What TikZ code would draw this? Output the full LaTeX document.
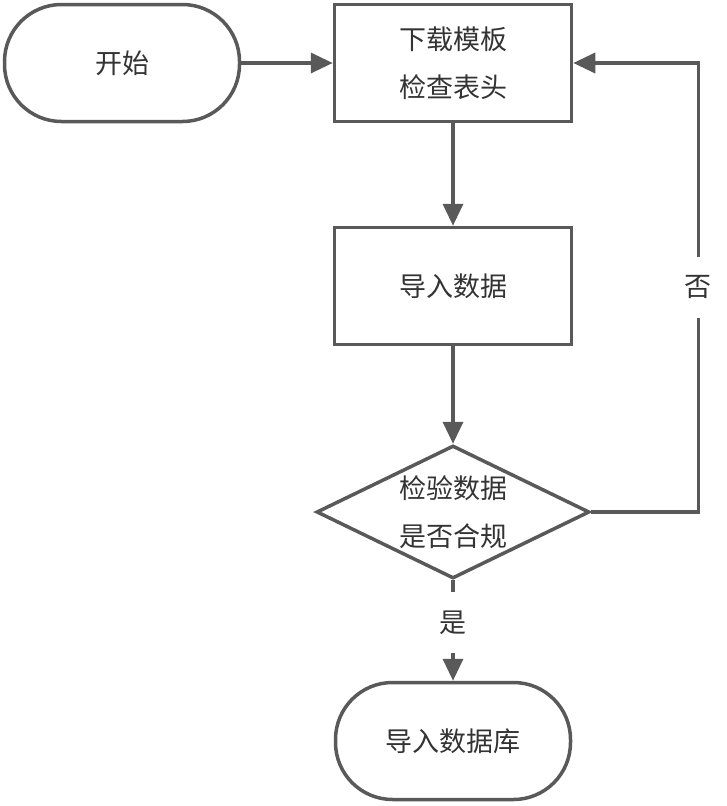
\documentclass[tikz,border=0pt]{standalone}
\usepackage{fontspec}
\setmainfont{Noto Sans CJK SC}
\usetikzlibrary{shapes.geometric,arrows.meta}

\definecolor{linegray}{HTML}{595959}
\definecolor{textgray}{HTML}{333333}

\begin{document}
\begin{tikzpicture}[x=1pt,y=-1pt,
	every node/.style={font=\fontsize{27}{48}\selectfont,text=textgray,align=center},
	terminal/.style={draw=linegray,line width=3.5pt,rounded corners=57pt,minimum width=235pt,minimum height=117pt},
	process/.style={draw=linegray,line width=3.5pt,minimum width=237pt,minimum height=117pt},
	decision/.style={draw=linegray,line width=3.5pt,diamond,aspect=2.05,inner sep=0pt,minimum width=273pt,minimum height=133pt},
	flow/.style={draw=linegray,line width=3.5pt,-{Triangle[length=22pt,width=20pt]}},
	answer/.style={fill=white,inner sep=19pt}]
	\useasboundingbox (0,0) rectangle (726,806);

	% Nodes
	\node[terminal] (Start) at (122,63) {开始};
	\node[process] (Load) at (453,63) {下载模板\\检查表头};
	\node[process] (Import) at (453,286) {导入数据};
	\node[decision] (Check) at (453,512) {检验数据\\是否合规};
	\node[terminal] (End) at (453,741) {导入数据库};

	% Arrows
	\draw[flow] (Start) -- (Load);
	\draw[flow] (Load) -- (Import);
	\draw[flow] (Import) -- (Check);
	\draw[flow] (Check) -- node[answer,pos=0.42] (Yes) {是} (End);
	\draw[flow] (Check.east) -- ++(107,0) |- node[answer,pos=0.25] (No) {否} (Load.east);
\end{tikzpicture}
\end{document}
